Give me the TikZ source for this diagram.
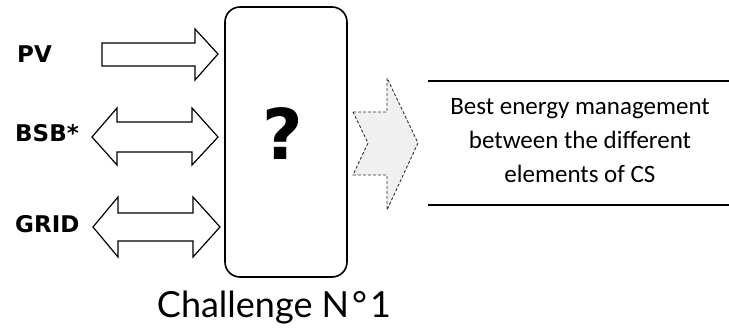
\documentclass[tikz,border=0pt]{standalone}
\usepackage{fontspec}
\setmainfont{Carlito}
\newfontfamily\labelfont{DejaVu Sans}
\newfontfamily\titlefont{Lato}
\begin{document}
\begin{tikzpicture}[x=1pt,y=-1pt,
  inlabel/.style={font=\labelfont\bfseries\fontsize{23}{23}\selectfont, inner sep=0pt, anchor=base west},
  flowarrow/.style={draw=black, line width=1.2pt, fill=white, line join=miter},
  resultarrow/.style={draw=black!80, line width=0.9pt, fill=black!6, dash pattern=on 3pt off 2pt},
  rule/.style={draw=black, line width=1.4pt},
  controller/.style={draw=black, line width=1.6pt, rounded corners=15pt, minimum width=122pt, minimum height=270pt, inner sep=0pt}
]
\useasboundingbox (0,0) rectangle (729,328);

% central controller block
\node[controller] (ctrl) at (286,142) {};
\node[font=\labelfont\bfseries\fontsize{70}{70}\selectfont, inner sep=0pt, anchor=base] (q) at (283,160) {?};

% inputs
\node[inlabel] (pv) at (17,63) {PV};
\node[inlabel] (bsb) at (15,142) {BSB*};
\node[inlabel] (grid) at (15,233) {GRID};

% PV: one-way arrow into the block
\draw[flowarrow] (102,43) -- (195,43) -- (195,29) -- (218,54) -- (195,80) -- (195,66) -- (102,66) -- cycle;

% BSB: two-way arrow
\draw[flowarrow] (92,137) -- (117,108) -- (117,122) -- (192,122) -- (192,108) -- (218,137)
  -- (192,165) -- (192,152) -- (117,152) -- (117,165) -- cycle;

% GRID: two-way arrow
\draw[flowarrow] (93,227) -- (118,197) -- (118,213) -- (193,213) -- (193,197) -- (220,227)
  -- (193,257) -- (193,241) -- (118,241) -- (118,257) -- cycle;

% output arrow
\draw[resultarrow] (353,112) -- (387,112) -- (387,78) -- (418,143) -- (387,210) -- (387,175) -- (353,175) -- (368,143) -- cycle;

% objective
\coordinate (rtopL) at (428,81);
\coordinate (rtopR) at (729,81);
\coordinate (rbotL) at (428,205);
\coordinate (rbotR) at (729,205);
\draw[rule] (rtopL) -- (rtopR);
\draw[rule] (rbotL) -- (rbotR);
\node[align=center, inner sep=0pt, font=\fontsize{25}{34}\selectfont] (goal) at (580,141)
  {Best energy management\\between the different\\elements of CS};

% caption
\node[font=\titlefont\fontsize{36}{36}\selectfont, inner sep=0pt, anchor=base] (cap) at (274,318) {Challenge N\kern3pt°\kern3pt1};
\end{tikzpicture}
\end{document}
